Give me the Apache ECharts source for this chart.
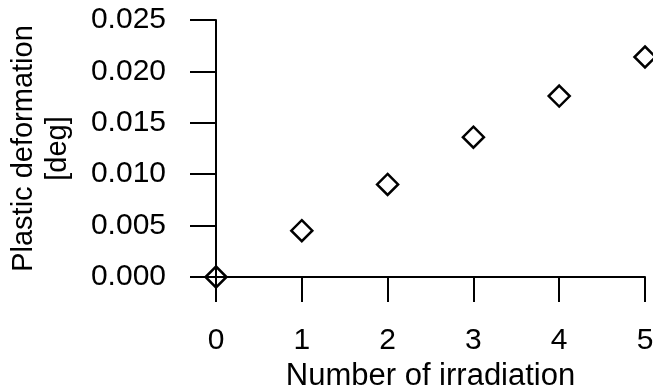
<!DOCTYPE html>
<html>
<head>
<meta charset="utf-8">
<script src="https://cdn.jsdelivr.net/npm/echarts@6/dist/echarts.min.js"></script>
<style>
  html, body { margin: 0; padding: 0; background: #fff; }
  #chart { width: 653px; height: 390px; }
</style>
</head>
<body>
<div id="chart"></div>
<script>
// number of irradiations and measured plastic deformation [deg]
const irradiation = [0, 1, 2, 3, 4, 5];
const deformation = [0.0, 0.0045, 0.0090, 0.0136, 0.0176, 0.0214];

const points = irradiation.map((x, i) => [x, deformation[i]]);

const chart = echarts.init(document.getElementById('chart'));

const font = (size) => ({
  color: '#000',
  fontSize: size,
  fontFamily: "'Liberation Sans', Arial, sans-serif"
});

const option = {
  animation: false,
  grid: {
    left: 216,
    right: 8,
    top: 20,
    bottom: 113,
    outerBoundsMode: 'none'
  },
  xAxis: {
    type: 'value',
    min: 0,
    max: 5,
    interval: 1,
    name: 'Number of irradiation',
    nameLocation: 'middle',
    nameGap: 84,
    nameTextStyle: font(31),
    axisLine: { show: true, onZero: false, lineStyle: { color: '#000', width: 2 } },
    axisTick: { show: true, inside: false, length: 25, lineStyle: { color: '#000', width: 2 } },
    axisLabel: Object.assign({ margin: 49 }, font(30)),
    splitLine: { show: false }
  },
  yAxis: {
    type: 'value',
    min: 0,
    max: 0.025,
    interval: 0.005,
    name: 'Plastic deformation\n[deg]',
    nameLocation: 'middle',
    nameRotate: 90,
    nameGap: 141,
    nameTextStyle: Object.assign({ lineHeight: 34 }, font(29)),
    axisLine: { show: true, onZero: false, lineStyle: { color: '#000', width: 2 } },
    axisTick: { show: true, inside: false, length: 26, lineStyle: { color: '#000', width: 2 } },
    axisLabel: Object.assign({
      margin: 50,
      formatter: (v) => v.toFixed(3)
    }, font(30)),
    splitLine: { show: false }
  },
  series: [
    {
      type: 'scatter',
      data: points,
      symbol: 'diamond',
      symbolSize: 21,
      clip: false,
      itemStyle: {
        color: 'rgba(0,0,0,0)',
        borderColor: '#000',
        borderWidth: 2.5,
        opacity: 1
      }
    }
  ]
};

chart.setOption(option);
</script>
</body>
</html>
